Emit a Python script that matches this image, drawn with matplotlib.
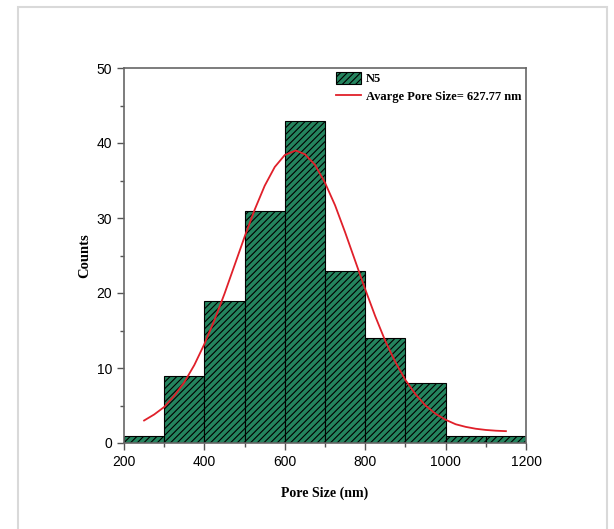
# Pore size distribution of N5 (histogram + Gaussian fit)

import numpy as np
import matplotlib
matplotlib.use('Agg')
import matplotlib.pyplot as plt
from matplotlib.patches import Rectangle

# histogram data (bin edges in nm, counts)
bin_edges = [200, 300, 400, 500, 600, 700, 800, 900, 1000, 1100, 1200]
counts = [1, 9, 19, 31, 43, 23, 14, 8, 1, 1]

# fitted curve
fit_x = [250, 275, 300, 325, 350, 375, 400, 425, 450, 475, 500, 525, 550,
         575, 600, 627, 650, 675, 700, 725, 750, 775, 800, 825, 850, 875,
         900, 925, 950, 975, 1000, 1025, 1050, 1075, 1100, 1125, 1150]
fit_y = [3.0, 3.8, 4.8, 6.3, 8.1, 10.4, 13.2, 16.4, 19.9, 23.7, 27.5, 31.1,
         34.3, 36.8, 38.4, 39.0, 38.5, 37.1, 34.7, 31.7, 28.1, 24.3, 20.5,
         16.9, 13.6, 10.8, 8.4, 6.5, 5.0, 3.9, 3.1, 2.5, 2.15, 1.9, 1.74,
         1.64, 1.58]

legend_labels = ['N5', 'Avarge Pore Size= 627.77 nm']

plt.rcParams['hatch.linewidth'] = 0.8

fig = plt.figure(figsize=(6.14, 5.29), dpi=100)
# light frame around the whole picture
fig.patches.append(Rectangle((18 / 614, -0.01), 589 / 614, 1 - 7 / 529 + 0.01,
                             transform=fig.transFigure, fill=False,
                             edgecolor='#d9d9d9', linewidth=1.5))

ax = fig.add_axes([124 / 614, 1 - 443 / 529, 402 / 614, 375 / 529])

lefts = bin_edges[:-1]
widths = np.diff(bin_edges)
bars = ax.bar(lefts, counts, width=widths, align='edge', color='#24845e',
              edgecolor='black', linewidth=0.8, hatch='/////')
line, = ax.plot(fit_x, fit_y, color='#e0202a', linewidth=1.3)

ax.set_xlim(200, 1200)
ax.set_ylim(0, 50)
ax.set_xticks(range(200, 1201, 200))
ax.set_xticks(range(300, 1200, 200), minor=True)
ax.set_yticks(range(0, 51, 10))
ax.set_yticks(range(5, 50, 10), minor=True)
ax.tick_params(which='major', direction='out', length=5, width=1,
               labelsize=10, color='#555555')
ax.tick_params(which='minor', direction='out', length=3, width=1,
               color='#555555')
for lab in ax.get_xticklabels() + ax.get_yticklabels():
    lab.set_fontfamily('Liberation Sans')

for s in ax.spines.values():
    s.set_color('#666666')
    s.set_linewidth(1.2)

ax.set_xlabel('Pore Size (nm)', fontfamily='Liberation Serif',
              fontweight='bold', fontsize=10, labelpad=13)
ax.set_ylabel('Counts', fontfamily='Liberation Serif',
              fontweight='bold', fontsize=10.5, labelpad=4)

ax.legend([bars, line], legend_labels, loc='upper left',
          bbox_to_anchor=(0.5, 1.02), frameon=False,
          prop={'family': 'Liberation Serif', 'weight': 'bold', 'size': 9},
          handlelength=2.0, handleheight=1.1, handletextpad=0.4,
          labelspacing=0.35)

plt.savefig('out.png', dpi=100)
